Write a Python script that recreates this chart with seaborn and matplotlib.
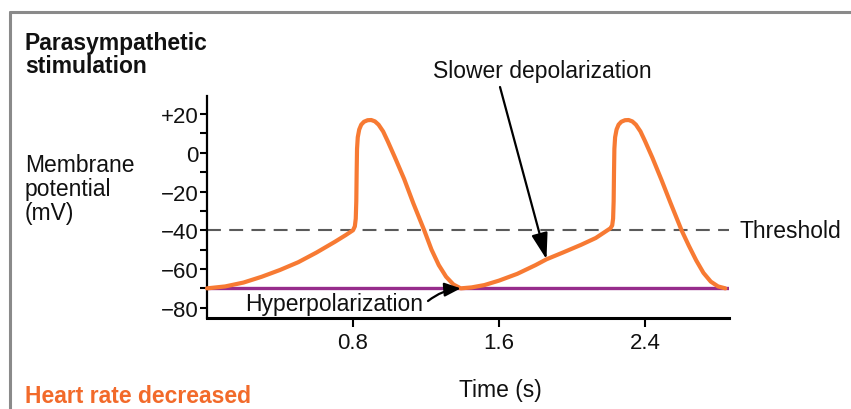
import matplotlib
matplotlib.use("Agg")
import matplotlib.pyplot as plt
from matplotlib.lines import Line2D
import seaborn as sns
import pandas as pd

# Membrane potential trace (two pacemaker cycles under vagal tone)
time_s = [0.00, 0.10, 0.20, 0.30, 0.40, 0.50, 0.60, 0.70, 0.76, 0.80,
          0.81, 0.815, 0.818, 0.82, 0.822, 0.826, 0.834, 0.845, 0.86, 0.88,
          0.90, 0.92, 0.94, 0.965, 0.99, 1.03, 1.08, 1.13, 1.19, 1.23,
          1.27, 1.31, 1.35, 1.39, 1.45, 1.52, 1.60, 1.70, 1.80, 1.86,
          1.95, 2.05, 2.13, 2.21, 2.22, 2.225, 2.228, 2.23, 2.232, 2.236,
          2.244, 2.255, 2.27, 2.29, 2.31, 2.33, 2.35, 2.375, 2.40, 2.44,
          2.49, 2.54, 2.60, 2.64, 2.68, 2.72, 2.76, 2.80, 2.84]
membrane_mv = [-70.0, -69.0, -67.0, -64.0, -60.5, -56.5, -51.5, -46.0, -42.5, -40.0,
               -38.0, -34.0, -25.0, -10.0, 2.0, 8.0, 12.0, 14.5, 16.0, 16.8,
               16.9, 16.2, 14.5, 11.0, 6.0, -2.5, -13.5, -26.0, -40.0, -50.0,
               -58.0, -64.0, -68.0, -70.0, -69.5, -68.3, -66.0, -62.5, -58.0, -55.0,
               -51.5, -47.5, -44.0, -39.0, -37.5, -34.0, -25.0, -10.0, 2.0, 8.0,
               12.0, 14.5, 16.0, 16.8, 16.9, 16.2, 14.5, 11.0, 6.0, -2.5,
               -14.0, -26.0, -40.0, -48.0, -55.5, -62.0, -66.5, -69.0, -70.0]

resting_mv = -70
threshold_mv = -40
x_ticks = [0.8, 1.6, 2.4]
x_tick_labels = ["0.8", "1.6", "2.4"]
y_ticks = [20, 0, -20, -40, -60, -80]
y_tick_labels = ["+20", "0", "\u221220", "\u221240", "\u221260", "\u221280"]
y_minor_ticks = [10, -10, -30, -50, -70]

slower_depol_point = (1.86, -55.0)
hyperpol_point = (1.39, -70.0)

ORANGE = "#F77A33"
PURPLE = "#962C8C"

sns.set_theme(style="white")
plt.rcParams["font.family"] = ["Liberation Sans", "DejaVu Sans"]
plt.rcParams["lines.scale_dashes"] = False

W, H = 851, 410
fig = plt.figure(figsize=(W / 100, H / 100), dpi=100)
fig.patch.set_facecolor("white")


def fx(px):
    return px / W


def fy(py):
    return 1 - py / H


ax = fig.add_axes([fx(207), fy(319), (729 - 207) / W, (319 - 97) / H])
ax.set_facecolor("white")
ax.set_xlim(0, 2.86)
ax.set_ylim(-85.3, 29.3)

# threshold and resting (hyperpolarized) levels
ax.hlines(threshold_mv, 0, 2.86, colors="#5a5a5a", linewidth=1.5,
          linestyles=[(0, (10, 6))], zorder=1)
ax.hlines(resting_mv, 0, 2.86, colors=PURPLE, linewidth=2.4, zorder=2)

trace = pd.DataFrame({"Time (s)": time_s, "Membrane potential (mV)": membrane_mv})
sns.lineplot(data=trace, x="Time (s)", y="Membrane potential (mV)", ax=ax,
             sort=False, estimator=None, color=ORANGE, linewidth=3.0, zorder=3)
for ln in ax.lines:
    ln.set_solid_joinstyle("round")
    ln.set_solid_capstyle("round")
    ln.set_clip_on(False)

# axes styling
for side in ("top", "right"):
    ax.spines[side].set_visible(False)
ax.spines["left"].set_color("black")
ax.spines["left"].set_linewidth(1.6)
ax.spines["bottom"].set_color("black")
ax.spines["bottom"].set_linewidth(2.2)
ax.set_xticks(x_ticks)
ax.set_xticklabels(x_tick_labels)
ax.set_yticks(y_ticks)
ax.set_yticklabels(y_tick_labels)
ax.set_yticks(y_minor_ticks, minor=True)
ax.tick_params(axis="x", which="major", direction="out", length=6.5, width=1.5,
               color="black", pad=3.5, labelsize=16, labelcolor="#111111", bottom=True)
ax.tick_params(axis="y", which="major", direction="out", length=5, width=1.5,
               color="black", pad=1, labelsize=16, labelcolor="#111111", left=True)
ax.tick_params(axis="y", which="minor", direction="out", length=5, width=1.5,
               color="black", left=True)
ax.set_xlabel("")
ax.set_ylabel("")
ax.grid(False)

# annotations
ax.annotate("", xy=slower_depol_point, xycoords="data",
            xytext=(fx(500), fy(88)), textcoords="figure fraction",
            arrowprops=dict(arrowstyle="-|>,head_length=0.8,head_width=0.25",
                            mutation_scale=20, lw=1.6, color="black",
                            shrinkA=0, shrinkB=0),
            annotation_clip=False, zorder=5)
ax.annotate("", xy=hyperpol_point, xycoords="data",
            xytext=(fx(428), fy(302)), textcoords="figure fraction",
            arrowprops=dict(arrowstyle="-|>,head_length=0.7,head_width=0.3",
                            mutation_scale=14, lw=1.6, color="black",
                            shrinkA=0, shrinkB=0,
                            connectionstyle="arc3,rad=-0.15"),
            annotation_clip=False, zorder=5)

txt_kw = dict(fontsize=16.5, color="#111111", va="baseline")
fig.text(fx(25), fy(50), "Parasympathetic", fontweight="bold", ha="left", **txt_kw)
fig.text(fx(25), fy(73), "stimulation", fontweight="bold", ha="left", **txt_kw)
fig.text(fx(25), fy(172), "Membrane", ha="left", **txt_kw)
fig.text(fx(25), fy(196), "potential", ha="left", **txt_kw)
fig.text(fx(25), fy(220), "(mV)", ha="left", **txt_kw)
fig.text(fx(433), fy(78), "Slower depolarization", ha="left", **txt_kw)
fig.text(fx(740), fy(238), "Threshold", ha="left", **txt_kw)
fig.text(fx(245), fy(311), "Hyperpolarization", ha="left", **txt_kw)
fig.text(fx(500), fy(397), "Time (s)", ha="center", **txt_kw)
fig.text(fx(25), fy(403), "Heart rate decreased", ha="left", fontweight="bold",
         fontsize=16.5, color="#F26A2A", va="baseline")

# panel frame
frame_kw = dict(color="#8a8a8a", linewidth=2.2, transform=fig.transFigure)
fig.add_artist(Line2D([fx(10), fx(10)], [fy(13), fy(415)], **frame_kw))
fig.add_artist(Line2D([fx(10), fx(860)], [fy(13), fy(13)], **frame_kw))

fig.savefig("out.png", dpi=100, facecolor="white")
